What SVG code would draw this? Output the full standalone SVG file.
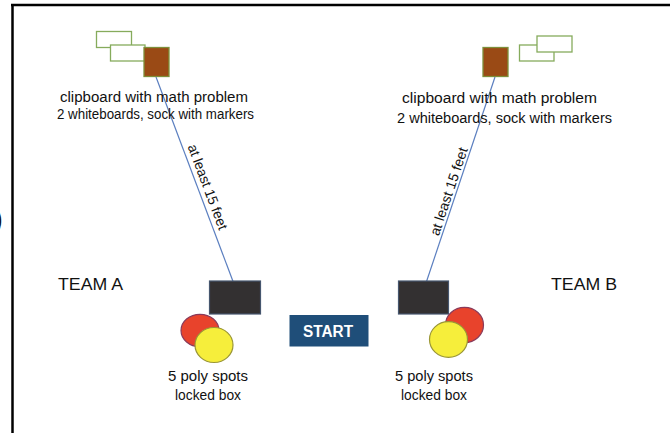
<svg xmlns="http://www.w3.org/2000/svg" width="670" height="433" viewBox="0 0 670 433">
  <style>
    .lbl { font-family: "Liberation Sans", "Open Sans", Arial, sans-serif; font-size: 14px; fill: #111; text-anchor: middle; }
    .team { font-family: "Liberation Sans", "Open Sans", Arial, sans-serif; font-size: 16.5px; fill: #111; text-anchor: middle; }
    .wb { fill: #fff; stroke: #86ab5c; stroke-width: 1.3; }
    .clip { fill: #9a4a15; stroke: #7d8f3a; stroke-width: 1.3; }
    .lockbox { fill: #333031; stroke: #46566e; stroke-width: 1.2; }
    .red { fill: #e8432c; stroke: #8a3a5a; stroke-width: 1.2; }
    .yellow { fill: #f6ee3b; stroke: #9a9636; stroke-width: 1.2; }
    .dist { stroke: #5b7fc0; stroke-width: 1.2; fill: none; }
  </style>

  <rect width="670" height="433" fill="#fff"/>

  <!-- page frame -->
  <g id="frame" stroke="#000" stroke-width="2.5" fill="none">
    <line x1="11" y1="5" x2="670" y2="5"/>
    <line x1="12.5" y1="4" x2="12.5" y2="433"/>
  </g>
  <text x="-7" y="229" font-family="Liberation Sans, sans-serif" font-size="30" fill="#111">)</text>

  <!-- distance lines -->
  <g id="connectors">
    <line class="dist" x1="156" y1="77" x2="237" y2="292"/>
    <line class="dist" x1="495" y1="77" x2="422" y2="295"/>
    <text class="lbl" transform="translate(207.5,187) rotate(69.4)" y="4.5" textLength="90" lengthAdjust="spacingAndGlyphs">at least 15 feet</text>
    <text class="lbl" transform="translate(449,191.5) rotate(-71.5)" y="4.5" textLength="92" lengthAdjust="spacingAndGlyphs">at least 15 feet</text>
  </g>

  <!-- Team A station -->
  <g id="clipboard-a">
    <rect class="wb" x="96.5" y="31.5" width="35" height="16"/>
    <rect class="wb" x="110.5" y="45" width="34.5" height="16"/>
    <rect class="clip" x="144" y="47.5" width="25" height="29"/>
    <text class="lbl" x="154" y="102" textLength="188" lengthAdjust="spacingAndGlyphs">clipboard with math problem</text>
    <text class="lbl" x="155.5" y="119" textLength="197" lengthAdjust="spacingAndGlyphs">2 whiteboards, sock with markers</text>
  </g>

  <g id="team-a">
    <text class="team" x="90.5" y="290" textLength="65" lengthAdjust="spacingAndGlyphs">TEAM A</text>
  </g>

  <g id="lockbox-a">
    <rect class="lockbox" x="209.5" y="281" width="51" height="33"/>
    <ellipse class="red" cx="200" cy="330.5" rx="19" ry="16.2"/>
    <ellipse class="yellow" cx="214" cy="345" rx="19" ry="17.5"/>
    <text class="lbl" x="208" y="381" textLength="80" lengthAdjust="spacingAndGlyphs">5 poly spots</text>
    <text class="lbl" x="208" y="400" textLength="66" lengthAdjust="spacingAndGlyphs">locked box</text>
  </g>

  <!-- start marker -->
  <g id="start">
    <rect x="289.5" y="315" width="79" height="31.5" fill="#1f4e79"/>
    <text x="328" y="336.5" font-family="Liberation Sans, Arial, sans-serif" font-size="16" font-weight="bold" fill="#fff" text-anchor="middle" textLength="50" lengthAdjust="spacingAndGlyphs">START</text>
  </g>

  <!-- Team B station -->
  <g id="clipboard-b">
    <rect class="wb" x="519.5" y="45" width="34.5" height="16"/>
    <rect class="wb" x="537" y="36" width="35" height="16"/>
    <rect class="clip" x="483" y="47.5" width="25" height="29"/>
    <text class="lbl" x="499.5" y="103" textLength="195" lengthAdjust="spacingAndGlyphs">clipboard with math problem</text>
    <text class="lbl" x="504.5" y="123" textLength="215" lengthAdjust="spacingAndGlyphs">2 whiteboards, sock with markers</text>
  </g>

  <g id="team-b">
    <text class="team" x="584" y="290" textLength="66" lengthAdjust="spacingAndGlyphs">TEAM B</text>
  </g>

  <g id="lockbox-b">
    <rect class="lockbox" x="398.5" y="281" width="50" height="33"/>
    <ellipse class="red" cx="464.5" cy="325" rx="19" ry="17.7"/>
    <ellipse class="yellow" cx="448.5" cy="339.5" rx="19" ry="17.8"/>
    <text class="lbl" x="434" y="381" textLength="78" lengthAdjust="spacingAndGlyphs">5 poly spots</text>
    <text class="lbl" x="434" y="400" textLength="66" lengthAdjust="spacingAndGlyphs">locked box</text>
  </g>
</svg>
